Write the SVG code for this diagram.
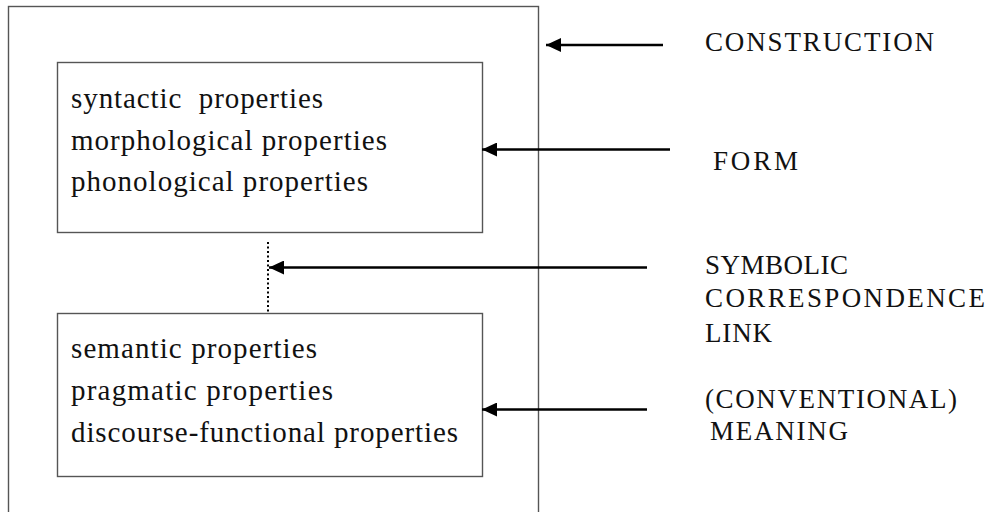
<svg xmlns="http://www.w3.org/2000/svg" width="991" height="512" viewBox="0 0 991 512">
  <defs>
    <marker id="ah" markerUnits="userSpaceOnUse" markerWidth="16" markerHeight="14" refX="15" refY="7" orient="auto">
      <path d="M0,0 L15,7 L0,14 z" fill="#000"/>
    </marker>
    <style>
      .box { fill: none; stroke: #555; stroke-width: 1.4; }
      .t { font-family: "Liberation Serif", "Times New Roman", serif; font-size: 29px; fill: #111; }
      .c { font-family: "Liberation Serif", "Times New Roman", serif; font-size: 27px; fill: #111; }
      .arr { stroke: #000; stroke-width: 2.4; fill: none; marker-end: url(#ah); }
      .dot { stroke: #000; stroke-width: 2; stroke-dasharray: 2 2.5; fill: none; }
    </style>
  </defs>
  <rect width="991" height="512" fill="#fff"/>

  <g id="construction">
    <rect class="box" x="8.5" y="6.5" width="530" height="520"/>
  </g>

  <g id="form">
    <rect class="box" x="57.5" y="62.5" width="425" height="170"/>
    <text class="t" x="71" y="108" textLength="252" lengthAdjust="spacing" xml:space="preserve">syntactic  properties</text>
    <text class="t" x="71" y="150" textLength="316" lengthAdjust="spacing">morphological properties</text>
    <text class="t" x="71" y="191" textLength="297" lengthAdjust="spacing">phonological properties</text>
  </g>

  <g id="meaning">
    <rect class="box" x="57.5" y="313.5" width="425" height="163"/>
    <text class="t" x="71" y="358" textLength="246" lengthAdjust="spacing">semantic properties</text>
    <text class="t" x="71" y="400" textLength="262" lengthAdjust="spacing">pragmatic properties</text>
    <text class="t" x="71" y="442" textLength="387" lengthAdjust="spacing">discourse-functional properties</text>
  </g>

  <g id="labels">
    <text class="c" x="705" y="51" textLength="229" lengthAdjust="spacing">CONSTRUCTION</text>
    <text class="c" x="713" y="170" textLength="85" lengthAdjust="spacing">FORM</text>
    <text class="c" x="705" y="274" textLength="143" lengthAdjust="spacing">SYMBOLIC</text>
    <text class="c" x="705" y="307" textLength="280" lengthAdjust="spacing">CORRESPONDENCE</text>
    <text class="c" x="705" y="342" textLength="67" lengthAdjust="spacing">LINK</text>
    <text class="c" x="705" y="408" textLength="252" lengthAdjust="spacing">(CONVENTIONAL)</text>
    <text class="c" x="710" y="440" textLength="138" lengthAdjust="spacing">MEANING</text>
  </g>

  <g id="connectors">
    <line class="dot" x1="268" y1="242" x2="268" y2="313"/>
    <line class="arr" x1="663" y1="45" x2="546" y2="45"/>
    <line class="arr" x1="670" y1="149.5" x2="482" y2="149.5"/>
    <line class="arr" x1="647" y1="267.5" x2="269" y2="267.5"/>
    <line class="arr" x1="647" y1="409.5" x2="482" y2="409.5"/>
  </g>
</svg>
